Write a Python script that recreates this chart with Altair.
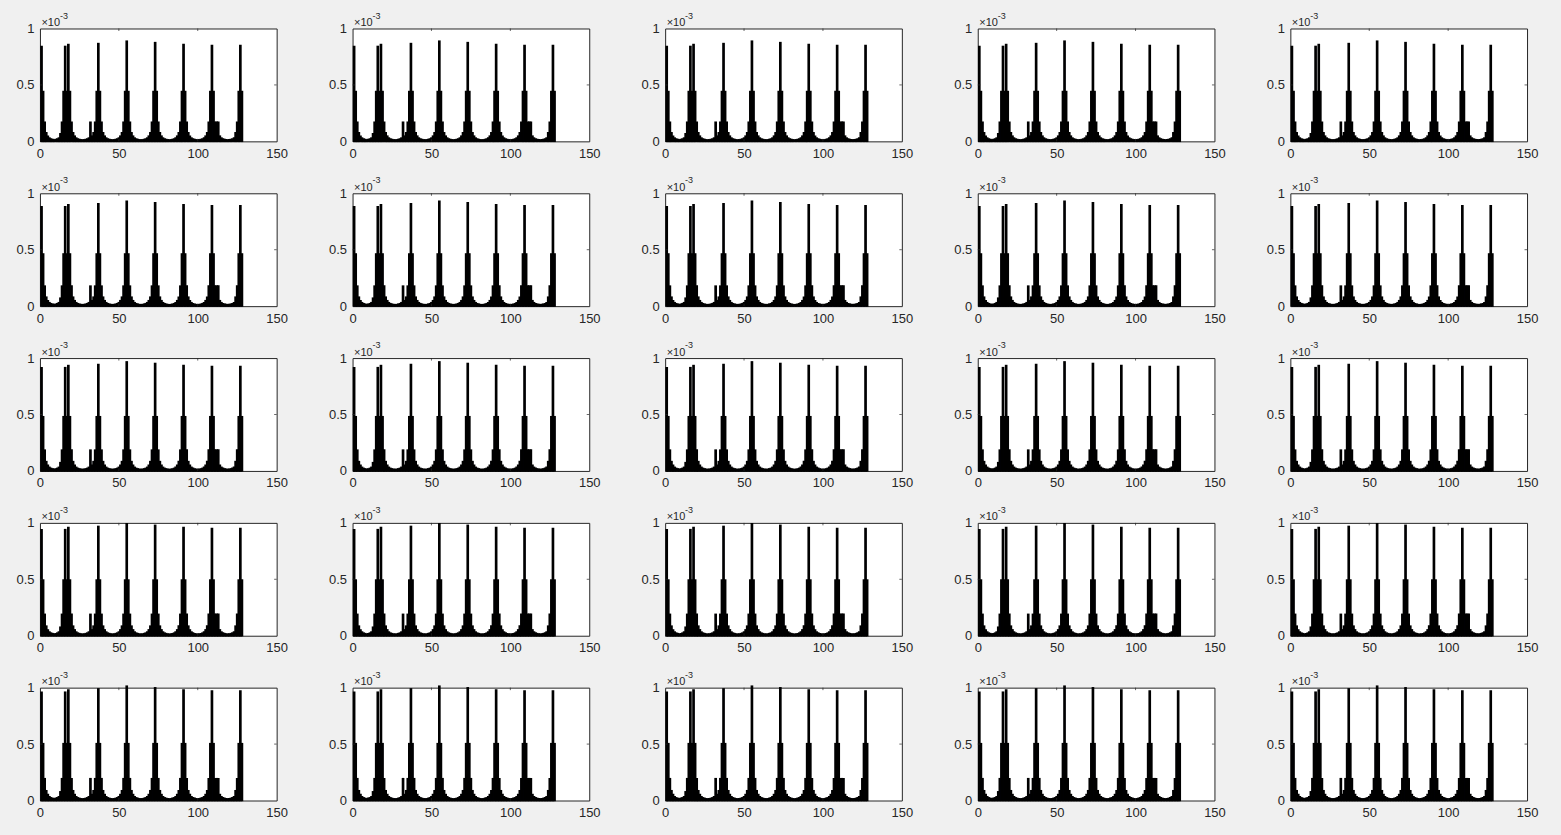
import altair as alt
import pandas as pd

# ---------------- data ----------------
# bar positions 1..128
bins = list(range(1, 129))

# relative bar profile (peak ~1)
shape = [
    0.99, 0.52, 0.20, 0.09, 0.055, 0.035, 0.025, 0.02, 0.016, 0.02,     # 1-10
    0.025, 0.035, 0.08, 0.20, 0.52, 0.99, 0.52, 1.01, 0.52, 0.20,       # 11-20
    0.09, 0.055, 0.035, 0.025, 0.02, 0.016, 0.015, 0.016, 0.02, 0.025,  # 21-30
    0.035, 0.20, 0.055, 0.09, 0.20, 0.52, 1.02, 0.52, 0.20, 0.09,       # 31-40
    0.055, 0.035, 0.025, 0.02, 0.016, 0.015, 0.016, 0.02, 0.025, 0.035, # 41-50
    0.055, 0.09, 0.20, 0.52, 1.045, 0.52, 0.20, 0.09, 0.055, 0.035,     # 51-60
    0.025, 0.02, 0.016, 0.015, 0.016, 0.02, 0.025, 0.035, 0.055, 0.09,  # 61-70
    0.20, 0.52, 1.03, 0.52, 0.20, 0.09, 0.055, 0.035, 0.025, 0.02,      # 71-80
    0.016, 0.015, 0.016, 0.02, 0.025, 0.035, 0.055, 0.09, 0.20, 0.52,   # 81-90
    1.01, 0.52, 0.20, 0.09, 0.055, 0.035, 0.025, 0.02, 0.016, 0.015,    # 91-100
    0.016, 0.02, 0.025, 0.035, 0.055, 0.09, 0.20, 0.52, 1.00, 0.52,     # 101-110
    0.20, 0.20, 0.20, 0.055, 0.035, 0.025, 0.02, 0.016, 0.015, 0.016,   # 111-120
    0.02, 0.025, 0.035, 0.09, 0.20, 0.52, 1.00, 0.52,                   # 121-128
]

# peak height of each panel (x 1e-3), row by row
peak_amp = [
    [0.850, 0.850, 0.850, 0.850, 0.850],
    [0.890, 0.890, 0.890, 0.890, 0.890],
    [0.925, 0.925, 0.925, 0.925, 0.925],
    [0.950, 0.950, 0.950, 0.950, 0.950],
    [0.970, 0.970, 0.970, 0.970, 0.970],
]

x_ticks = [0, 50, 100, 150]
y_ticks = [0, 0.5, 1]
x_inner_ticks = [50, 100]
y_inner_ticks = [0.5]

# ---------------- styling ----------------
W, H = 237, 113
TXT = "#262626"
FONT = "Liberation Sans"
TL = 2.5  # inward tick length

x_scale = alt.Scale(domain=[0, 150], nice=False, zero=False)
y_scale = alt.Scale(domain=[0, 1], nice=False)
x_axis = alt.Axis(values=x_ticks, format="d", labelFlush=False, title=None)
y_axis = alt.Axis(values=y_ticks, format="~g", title=None)


def panel(r, c, first=False):
    amp = peak_amp[r][c]
    df = pd.DataFrame({"bin": bins, "value": [s * amp for s in shape]})
    bars = (
        alt.Chart(df)
        .transform_calculate(x0="datum.bin - 0.4", x1="datum.bin + 0.4")
        .mark_bar(fill="#1c1c96", stroke="#000000", strokeWidth=1.4)
        .encode(
            x=alt.X("x0:Q", scale=x_scale, axis=x_axis, title=None),
            x2="x1:Q",
            y=alt.Y("value:Q", scale=y_scale, axis=y_axis, title=None),
            y2=alt.datum(0),
        )
    )
    xt = pd.DataFrame({"t": x_inner_ticks})
    yt = pd.DataFrame({"t": y_inner_ticks})
    tb = alt.Chart(xt).mark_rule(color=TXT, strokeWidth=0.7).encode(
        x=alt.X("t:Q", scale=x_scale, axis=x_axis, title=None),
        y=alt.value(H), y2=alt.value(H - TL))
    tt = alt.Chart(xt).mark_rule(color=TXT, strokeWidth=0.7).encode(
        x=alt.X("t:Q", scale=x_scale, axis=x_axis, title=None),
        y=alt.value(0), y2=alt.value(TL))
    tl = alt.Chart(yt).mark_rule(color=TXT, strokeWidth=0.7).encode(
        y=alt.Y("t:Q", scale=y_scale, axis=y_axis, title=None),
        x=alt.value(0), x2=alt.value(TL))
    tr = alt.Chart(yt).mark_rule(color=TXT, strokeWidth=0.7).encode(
        y=alt.Y("t:Q", scale=y_scale, axis=y_axis, title=None),
        x=alt.value(W - TL), x2=alt.value(W))
    one = pd.DataFrame({"a": [0]})
    mult = alt.Chart(one).mark_text(align="left", baseline="alphabetic", font=FONT,
                                    fontSize=11, color=TXT).encode(
        x=alt.value(1.5), y=alt.value(-2.5), text=alt.value("\u00d710"))
    expo = alt.Chart(one).mark_text(align="left", baseline="alphabetic", font=FONT,
                                    fontSize=9, color=TXT).encode(
        x=alt.value(20), y=alt.value(-10), text=alt.value("-3"))
    layers = [bars, tb, tt, tl, tr, mult, expo]
    if first:
        canvas = alt.Chart(one).mark_rect(opacity=0).encode(
            x=alt.value(-39), x2=alt.value(1522), y=alt.value(-27), y2=alt.value(808))
        layers = [canvas] + layers
    return alt.layer(*layers).properties(width=W, height=H)


panels = []
for r in range(5):
    for c in range(5):
        panels.append(panel(r, c, first=(r == 0 and c == 0)))

chart = (
    alt.concat(*panels, columns=5, spacing={"row": 52, "column": 76})
    .properties(bounds="flush", background="#f0f0f0", padding=0)
    .configure_view(fill="white", stroke=TXT, strokeWidth=1)
    .configure_axis(domain=False, ticks=False, tickSize=0, grid=False,
                    labelFont=FONT, labelFontSize=13, labelColor=TXT)
    .configure_axisX(labelPadding=6)
    .configure_axisY(labelPadding=6)
)

chart.save("out.html", embed_options={"renderer": "svg", "actions": False})
